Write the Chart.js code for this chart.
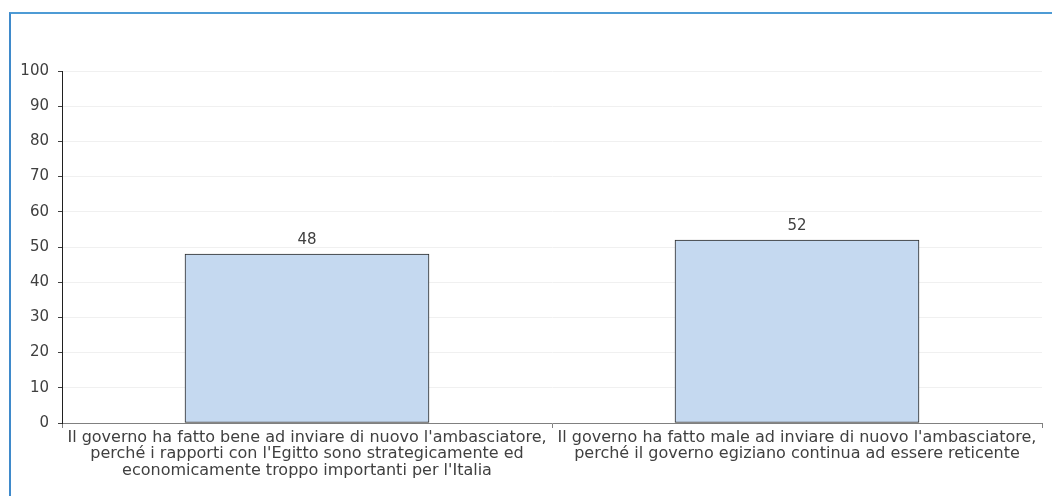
<!DOCTYPE html>
<html>
<head>
<meta charset="utf-8">
<script src="https://cdn.jsdelivr.net/npm/chart.js@4"></script>
<style>
  html, body { margin: 0; padding: 0; background: #fff; }
  #wrap { position: relative; width: 1052px; height: 496px; overflow: hidden; }
  #frame { position: absolute; left: 9px; top: 12px; right: -10px; bottom: -10px;
           border-top: 2px solid #4e9bd5; border-left: 2px solid #3f8acb; }
  canvas { position: absolute; left: 0; top: 0; }
</style>
</head>
<body>
<div id="wrap">
  <div id="frame"></div>
  <canvas id="chart" width="1052" height="496"></canvas>
</div>
<script>
// categories (multi-line labels as in the picture)
var categories = [
  ["Il governo ha fatto bene ad inviare di nuovo l'ambasciatore,",
   "perché i rapporti con l'Egitto sono strategicamente ed",
   "economicamente troppo importanti per l'Italia"],
  ["Il governo ha fatto male ad inviare di nuovo l'ambasciatore,",
   "perché il governo egiziano continua ad essere reticente"]
];
var values = [48, 52];
var yTicks = [0, 10, 20, 30, 40, 50, 60, 70, 80, 90, 100];

var textColor = '#404040';
var fontFamily = "'DejaVu Sans', sans-serif";

// draws the value above each bar
var valueLabels = {
  id: 'valueLabels',
  afterDatasetsDraw: function(chart) {
    var ctx = chart.ctx;
    ctx.save();
    ctx.font = '15px ' + fontFamily;
    ctx.fillStyle = textColor;
    ctx.textAlign = 'center';
    ctx.textBaseline = 'bottom';
    chart.getDatasetMeta(0).data.forEach(function(bar, i) {
      ctx.fillText(String(values[i]), bar.x, bar.y - 6);
    });
    ctx.restore();
  }
};

var ctx = document.getElementById('chart').getContext('2d');
new Chart(ctx, {
  type: 'bar',
  data: {
    labels: categories,
    datasets: [{
      data: values,
      backgroundColor: '#c5d9f0',
      borderColor: '#2a2a2a',
      borderWidth: 1,
      borderSkipped: false,
      barThickness: 244
    }]
  },
  options: {
    responsive: false,
    animation: false,
    layout: { padding: { left: 0, right: 10, top: 71, bottom: 0 } },
    plugins: {
      legend: { display: false },
      tooltip: { enabled: false }
    },
    scales: {
      x: {
        grid: { drawOnChartArea: false, drawTicks: true, tickLength: 5, tickColor: '#808080' },
        border: { color: '#808080', width: 1 },
        ticks: {
          color: textColor,
          font: { family: fontFamily, size: 16, lineHeight: 1.05 },
          padding: 1,
          maxRotation: 0,
          autoSkip: false
        },
        afterFit: function(scale) { scale.height = 73; }
      },
      y: {
        min: 0,
        max: 100,
        afterBuildTicks: function(scale) {
          scale.ticks = yTicks.map(function(v) { return { value: v }; });
        },
        grid: { color: '#f0f0f0', tickLength: 4, tickColor: '#404040' },
        border: { color: '#202020', width: 1 },
        ticks: {
          color: textColor,
          font: { family: fontFamily, size: 15 },
          padding: 9
        },
        afterFit: function(scale) { scale.width = 62; }
      }
    }
  },
  plugins: [valueLabels]
});
</script>
</body>
</html>
